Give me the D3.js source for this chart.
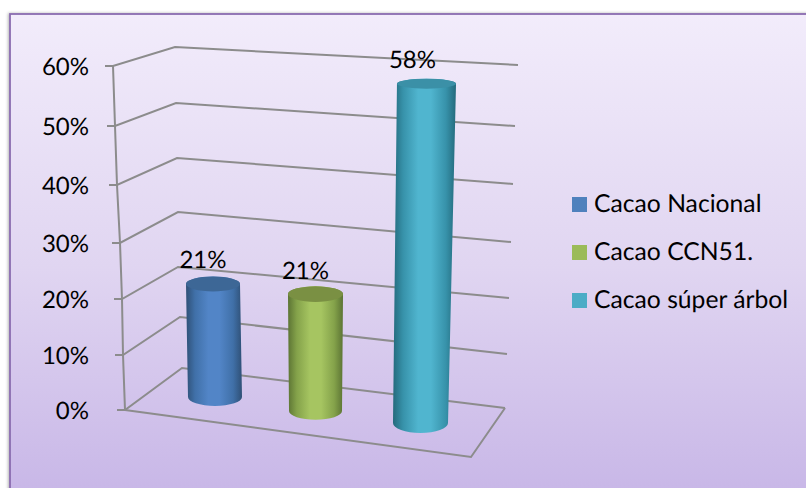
<!DOCTYPE html>
<html>
<head>
<meta charset="utf-8">
<script src="https://cdn.jsdelivr.net/npm/d3@7/dist/d3.min.js"></script>
<style>
html,body{margin:0;padding:0;background:#fff;overflow:hidden}
svg{display:block}
text{font-family:Lato,"Open Sans",sans-serif;fill:#000;text-rendering:geometricPrecision}
</style>
</head>
<body>
<div id="chart"></div>
<script>
// Chart content
const categories = ["Cacao Nacional", "Cacao CCN51.", "Cacao súper árbol"];
const values = [21, 21, 58];
const valueLabels = ["21%", "21%", "58%"];
const tickValues = [0, 10, 20, 30, 40, 50, 60];
const tickLabels = ["0%", "10%", "20%", "30%", "40%", "50%", "60%"];

// Colour ramps for the cylinders: edge, mid, highlight, cap
const bodyEdge = ["#2f5076", "#5c7434", "#246a7c"];
const bodyMid = ["#4070a8", "#84a24a", "#3792aa"];
const bodyLight = ["#5285c7", "#a6c561", "#50b5cf"];
const capFill = ["#3d6796", "#7a9043", "#3b90a7"];
const legendFill = ["#4f81bd", "#9bbb59", "#4bacc6"];

const W = 806, H = 488;
const svg = d3.select("#chart").append("svg").attr("width", W).attr("height", H);
const defs = svg.append("defs");

// Panel background
const bg = defs.append("linearGradient").attr("id", "panelFill")
  .attr("x1", 0).attr("y1", 0).attr("x2", 0).attr("y2", 1);
bg.append("stop").attr("offset", 0).attr("stop-color", "#f2ecfb");
bg.append("stop").attr("offset", 0.5).attr("stop-color", "#e0d5f1");
bg.append("stop").attr("offset", 1).attr("stop-color", "#c5b3e6");

const soft = defs.append("filter").attr("id", "panelShadow")
  .attr("x", "-5%").attr("y", "-5%").attr("width", "110%").attr("height", "110%");
soft.append("feDropShadow").attr("dx", -1).attr("dy", 0).attr("stdDeviation", 1.5)
  .attr("flood-color", "#000").attr("flood-opacity", 0.3);

svg.append("rect").attr("x", 10).attr("y", 14).attr("width", W + 20).attr("height", H + 20)
  .attr("fill", "url(#panelFill)").attr("stroke", "#8a6cb0").attr("stroke-width", 1.8)
  .attr("filter", "url(#panelShadow)");

// Perspective walls: one vertical scale per corner of the box
const frontY = d3.scaleLinear().domain(tickValues).range([410, 355, 299, 243, 185, 126, 66]);
const frontX = d3.scaleLinear().domain(tickValues).range([125, 123, 122, 120, 117, 115, 113]);
const backY = d3.scaleLinear().domain(tickValues).range([368, 317, 267, 212, 158, 103, 47]);
const backX = d3.scaleLinear().domain(tickValues).range([182, 180, 178, 178, 177, 176, 175]);
const rightY = d3.scaleLinear().domain(tickValues).range([408, 354, 298, 242, 184, 126, 65]);
const rightX = d3.scaleLinear().domain(tickValues).range([505, 507, 509, 511, 513, 515, 518]);

const gridColor = "#8c8c8c";
const line = d3.line();
const walls = svg.append("g").attr("fill", "none").attr("stroke", gridColor).attr("stroke-width", 2);

walls.selectAll("path.grid").data(tickValues).join("path").attr("class", "grid")
  .attr("d", v => line([
    [frontX(v) - 8, frontY(v)],
    [frontX(v), frontY(v)],
    [backX(v), backY(v)],
    [rightX(v), rightY(v)]
  ]));

walls.append("path").attr("d", line(tickValues.map(v => [frontX(v), frontY(v)])));

// Floor front edge runs to a corner in front of the back wall
const floorCorner = [471, 457];
walls.append("path").attr("d", line([
  [frontX(0), frontY(0)], floorCorner, [rightX(0), rightY(0)]
]));

// Tick labels
svg.append("g").selectAll("text").data(tickValues).join("text")
  .attr("x", 89).attr("y", v => frontY(v) + 9)
  .attr("text-anchor", "end").attr("font-size", 24)
  .text((v, i) => tickLabels[i]);

// Each cylinder has its own projection: edges and heights at value 0 and at value 60
const placement = [
  {l: [188, 182.3], r: [242, 236.3], y: [397, 74], ry: [9, 4.7], labelDx: -10, labelDy: -8},
  {l: [289, 286.1], r: [342, 344.9], y: [411, 77], ry: [8.7, 6.1], labelDx: -10, labelDy: -7},
  {l: [393, 397.1], r: [448, 456.3], y: [423, 72], ry: [10, 4.8], labelDx: -14, labelDy: -11}
];

categories.forEach((name, i) => {
  const g = defs.append("linearGradient").attr("id", "body" + i)
    .attr("x1", 0).attr("y1", 0).attr("x2", 1).attr("y2", 0);
  [[0, bodyEdge[i]], [0.16, bodyMid[i]], [0.4, bodyLight[i]], [0.6, bodyLight[i]], [0.84, bodyMid[i]], [1, bodyEdge[i]]]
    .forEach(s => g.append("stop").attr("offset", s[0]).attr("stop-color", s[1]));
});

const bars = svg.append("g").selectAll("g").data(values).join("g");

bars.each(function (value, i) {
  const p = placement[i];
  const dom = [0, 60];
  const left = d3.scaleLinear().domain(dom).range(p.l);
  const right = d3.scaleLinear().domain(dom).range(p.r);
  const y = d3.scaleLinear().domain(dom).range(p.y);
  const ry = d3.scaleLinear().domain(dom).range(p.ry);
  const sel = d3.select(this);

  const xl0 = left(0), xr0 = right(0), xlT = left(value), xrT = right(value);
  const y0 = y(0), yT = y(value);

  sel.append("path").attr("fill", `url(#body${i})`).attr("d",
    `M${xlT},${yT} L${xl0},${y0} A${(xr0 - xl0) / 2},${ry(0)} 0 0 0 ${xr0},${y0} ` +
    `L${xrT},${yT} A${(xrT - xlT) / 2},${ry(value)} 0 0 0 ${xlT},${yT} Z`);

  sel.append("ellipse").attr("fill", capFill[i])
    .attr("cx", (xlT + xrT) / 2).attr("cy", yT)
    .attr("rx", (xrT - xlT) / 2).attr("ry", ry(value));

  svg.append("text")
    .attr("x", (xlT + xrT) / 2 + p.labelDx)
    .attr("y", yT - ry(value) + p.labelDy)
    .attr("text-anchor", "middle").attr("font-size", 24)
    .text(valueLabels[i]);
});

// Legend
const legendY = d3.scalePoint().domain(categories).range([204.5, 300.5]);
const legend = svg.append("g").selectAll("g").data(categories).join("g")
  .attr("transform", d => `translate(572,${legendY(d)})`);
legend.append("rect").attr("y", -7.5).attr("width", 15).attr("height", 15)
  .attr("fill", (d, i) => legendFill[i]);
legend.append("text").attr("x", 22).attr("y", 7.5).attr("font-size", 24.7).text(d => d);
</script>
</body>
</html>
